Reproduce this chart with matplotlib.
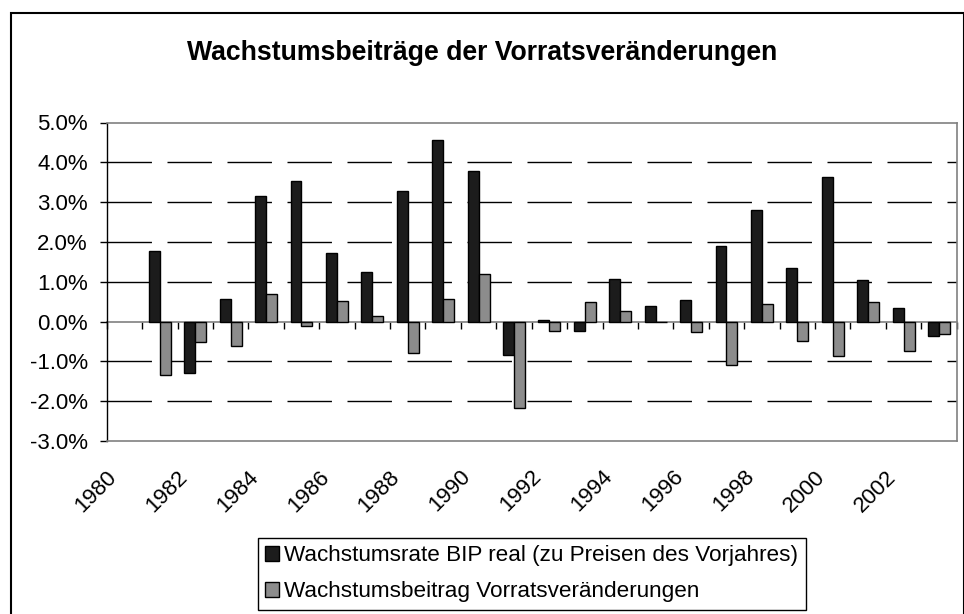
import matplotlib
matplotlib.use('Agg')
import matplotlib.pyplot as plt
import matplotlib.transforms as mtransforms
import numpy as np
from matplotlib.patches import Rectangle, Patch
from matplotlib.ticker import FuncFormatter

plt.rcParams['font.family'] = ['Liberation Sans', 'DejaVu Sans']
plt.rcParams['lines.scale_dashes'] = False

# ---- data ----
years = list(range(1980, 2004))
bip_real = [np.nan, 1.77, -1.30, 0.56, 3.15, 3.53, 1.72, 1.25, 3.27, 4.56, 3.79, -0.84,
            0.05, -0.23, 1.08, 0.39, 0.53, 1.91, 2.80, 1.35, 3.62, 1.04, 0.35, -0.36]
vorrat = [np.nan, -1.34, -0.52, -0.61, 0.69, -0.10, 0.52, 0.13, -0.78, 0.56, 1.20, -2.16,
          -0.23, 0.48, 0.26, 0.00, -0.27, -1.09, 0.44, -0.49, -0.87, 0.48, -0.74, -0.30]
tick_years = years[::2]
title = "Wachstumsbeiträge der Vorratsveränderungen"
series_labels = ["Wachstumsrate BIP real (zu Preisen des Vorjahres)",
                 "Wachstumsbeitrag Vorratsveränderungen"]
colors = ['#1c1c1c', '#8c8c8c']

W, H = 964, 614
fig = plt.figure(figsize=(W / 100, H / 100), dpi=100)
ax = fig.add_axes([106.7 / W, 1 - 441 / H, 850 / W, 318.5 / H])

x = np.arange(len(years))
bw = 0.31
ax.bar(x - bw / 2, bip_real, bw, color=colors[0], edgecolor='black', linewidth=1, zorder=3)
ax.bar(x + bw / 2, vorrat, bw, color=colors[1], edgecolor='black', linewidth=1, zorder=3)

ax.set_xlim(-0.5, len(years) - 0.5)
ax.set_ylim(-3, 5)
ax.set_yticks(np.arange(-3, 5.01, 1))
ax.yaxis.set_major_formatter(FuncFormatter(lambda v, p: f"{v:.1f}%"))
ax.tick_params(axis='y', direction='out', length=5, width=1, color='black',
               labelsize=16, pad=8.5)

for v in [-2, -1, 1, 2, 3, 4]:
    ax.axhline(v, color='black', linewidth=1, linestyle=(0, (32, 11.2)), zorder=1)

for s in ['top', 'right', 'bottom']:
    ax.spines[s].set_color('#808080')
    ax.spines[s].set_linewidth(1.2)
ax.spines['left'].set_color('black')
ax.spines['left'].set_linewidth(1)

ax.set_xticks(x[::2])
ax.set_xticklabels([str(y) for y in tick_years], rotation=45, ha='right',
                   va='center', rotation_mode='anchor', fontsize=16)
ax.tick_params(axis='x', length=0, pad=23.5)
shift = mtransforms.ScaledTranslation(-11 / 100, 0, fig.dpi_scale_trans)
for lab in ax.get_xticklabels():
    lab.set_transform(lab.get_transform() + shift)

# zero axis line with category boundary ticks
sec = ax.secondary_xaxis(3 / 8)
sec.set_xticks(np.arange(-0.5, len(years), 1))
sec.set_xticklabels([])
sec.tick_params(axis='x', direction='out', length=4.8, width=1, color='black')
sec.spines['bottom'].set_color('#808080')
sec.spines['bottom'].set_linewidth(1.2)

fig.text(0.5, 1 - 60 / H, title, ha='center', va='baseline', fontsize=19.2, weight='bold')

# outer chart border
fig.add_artist(Rectangle((11 / W, -0.05), 952.5 / W, 1 - 13 / H + 0.05,
                         transform=fig.transFigure, fill=False, edgecolor='black',
                         linewidth=1.5, clip_on=False))

handles = [Patch(facecolor=c, edgecolor='black', linewidth=1) for c in colors]
leg = fig.legend(handles, series_labels, loc='upper left',
                 bbox_to_anchor=(257.5 / W, 1 - 537.5 / H), frameon=True, fancybox=False,
                 edgecolor='black', framealpha=1, fontsize=16.2, handlelength=0.62,
                 handleheight=0.62, handletextpad=0.22, borderpad=0.35,
                 labelspacing=0.66, borderaxespad=0)
leg.get_frame().set_linewidth(1)

fig.savefig('out.png', dpi=100)
